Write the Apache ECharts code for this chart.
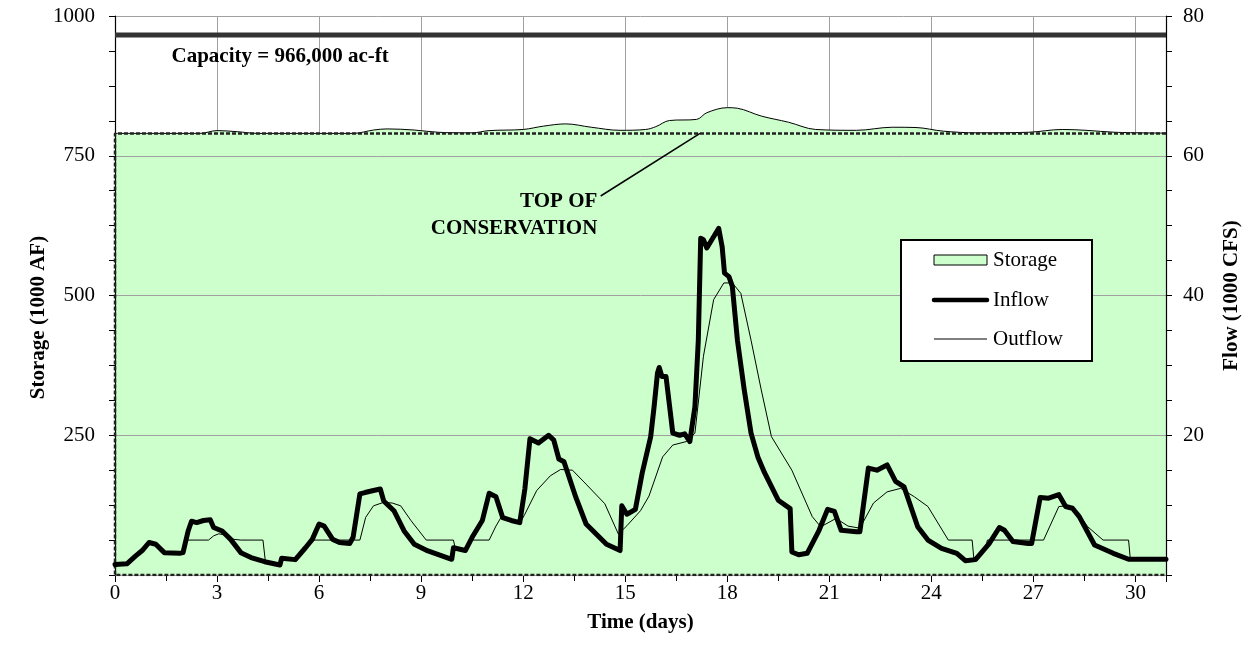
<!DOCTYPE html>
<html><head><meta charset="utf-8">
<script src="https://cdn.jsdelivr.net/npm/echarts@6/dist/echarts.min.js"></script>
<style>html,body{margin:0;padding:0;background:#fff}#c{width:1250px;height:654px}</style>
</head><body><div id="c"></div>
<script>
const FONT = "'Liberation Serif','Times New Roman',serif";

// ---- data ----
const timeMax = 30.9;               // days shown on the x axis
const capacity = 966;               // 1000 AF
const topOfConservation = 790;      // 1000 AF
const capacityLabel = 'Capacity = 966,000 ac-ft';
const tocLabel = 'TOP OF\nCONSERVATION';
const legendNames = ['Storage', 'Inflow', 'Outflow'];

// storage [day, 1000 AF]
const storage = [[0,790],[2.5,790],[3,795],[3.6,793],[4.2,790],[7.0,790],[7.6,796],[8,798],[8.8,796],[9.5,792],[10.5,791],[11,795],[12,797],[12.6,803],[13.25,807],[14,801],[14.85,795.5],[15.6,797],[15.9,802],[16.3,813],[17.1,815],[17.4,827],[18.0,836],[18.3,835],[19.0,821],[19.8,810],[20.6,797],[21.8,795.5],[22.85,801],[23.55,800.5],[24.35,794],[25.35,791],[26.85,792],[27.85,797],[28.55,795.5],[29.4,792],[30.9,790.5]];

// inflow [day, 1000 CFS]
const inflow = [[0,1.5],[0.35,1.6],[0.6,2.7],[0.8,3.5],[1.0,4.65],[1.2,4.4],[1.45,3.2],[1.9,3.1],[2.0,3.2],[2.15,6.3],[2.25,7.7],[2.4,7.5],[2.6,7.8],[2.8,7.9],[2.9,6.8],[3.15,6.3],[3.4,5.1],[3.7,3.2],[4.0,2.5],[4.4,1.9],[4.85,1.44],[4.9,2.4],[5.3,2.2],[5.6,3.9],[5.8,5.1],[6.0,7.3],[6.15,7.0],[6.4,5.1],[6.6,4.65],[6.9,4.5],[7.0,5.4],[7.2,11.6],[7.35,11.8],[7.6,12.1],[7.8,12.3],[7.9,10.6],[8.2,9.2],[8.5,6.3],[8.8,4.4],[9.2,3.45],[9.9,2.25],[9.95,3.9],[10.3,3.5],[10.5,5.4],[10.8,7.8],[11.0,11.7],[11.2,11.2],[11.4,8.2],[11.65,7.8],[11.9,7.5],[12.05,12.3],[12.2,19.5],[12.45,18.9],[12.75,20.0],[12.9,19.3],[13.05,16.6],[13.2,16.2],[13.55,11.1],[13.85,7.3],[14.45,4.4],[14.85,3.5],[14.9,9.9],[15.05,8.7],[15.3,9.4],[15.5,14.6],[15.75,19.8],[15.85,24.1],[15.95,28.9],[16.0,29.7],[16.08,28.4],[16.2,28.4],[16.4,20.3],[16.6,20.0],[16.75,20.2],[16.9,19.1],[17.05,24.1],[17.15,33.6],[17.22,48.2],[17.3,48.0],[17.4,46.8],[17.6,48.4],[17.75,49.6],[17.85,47.0],[17.92,43.2],[18.05,42.7],[18.15,41.3],[18.3,33.6],[18.5,26.5],[18.7,20.3],[18.9,16.9],[19.1,14.6],[19.5,10.7],[19.85,9.5],[19.9,3.3],[20.1,2.9],[20.35,3.1],[20.7,6.4],[20.95,9.4],[21.15,9.1],[21.35,6.4],[21.8,6.2],[21.9,6.2],[22.15,15.3],[22.4,15.0],[22.7,15.75],[22.95,13.4],[23.2,12.6],[23.6,6.9],[23.9,5.0],[24.3,3.8],[24.75,3.1],[25.0,2.05],[25.3,2.2],[25.7,4.5],[26.0,6.8],[26.15,6.4],[26.4,4.8],[26.85,4.5],[26.95,4.5],[27.2,11.1],[27.45,11.0],[27.75,11.5],[27.95,9.8],[28.15,9.55],[28.35,8.35],[28.8,4.3],[29.35,3.1],[29.8,2.25],[30.9,2.25]];

// outflow [day, 1000 CFS]
const outflow = [[0,1.5],[0.35,1.6],[0.6,2.7],[0.8,3.5],[1.0,4.65],[1.2,4.4],[1.45,3.2],[1.9,3.1],[2.0,3.2],[2.1,5.0],[2.75,5.0],[2.9,5.6],[3.05,5.9],[3.25,5.7],[3.5,5.1],[3.7,5.0],[4.35,5.0],[4.42,2.0],[4.85,1.44],[4.9,2.4],[5.3,2.2],[5.6,3.9],[5.8,5.0],[7.2,5.0],[7.37,8.25],[7.6,9.9],[7.9,10.4],[8.15,10.3],[8.4,9.9],[8.7,7.8],[9.15,5.0],[9.95,5.0],[10.0,3.9],[10.3,3.5],[10.45,5.0],[11.0,5.0],[11.2,7.0],[11.35,8.25],[11.65,7.8],[11.95,7.8],[12.05,8.7],[12.4,12.1],[12.8,14.2],[13.1,15.1],[13.45,15.0],[13.85,13.0],[14.4,10.2],[14.8,5.85],[15.05,7.05],[15.45,9.2],[15.7,11.3],[16.1,16.9],[16.4,18.6],[16.8,19.1],[17.05,20.3],[17.3,31.3],[17.6,39.4],[17.9,41.8],[18.15,41.8],[18.4,40.3],[18.7,33.6],[19.0,26.5],[19.3,19.8],[19.9,15.0],[20.5,8.35],[20.75,6.9],[21.2,8.1],[21.55,7.0],[21.9,6.7],[22.3,10.3],[22.7,11.9],[23.1,12.4],[23.5,11.2],[23.9,9.8],[24.5,5.0],[25.2,5.0],[25.25,2.4],[25.3,2.2],[25.6,4.0],[25.65,5.0],[27.3,5.0],[27.75,9.8],[28.0,9.9],[28.25,9.3],[28.6,6.9],[29.05,5.0],[29.8,5.0],[29.85,2.3],[30.9,2.25]];

// ---- annotation anchors (data coordinates) ----
const capacityLabelAt = [1.66, 927];
const tocLabelAt = [14.18, 643];
const tocPointerFrom = [14.28, 678];
const tocPointerTo = [17.2, topOfConservation];

const chart = echarts.init(document.getElementById('c'), null, {renderer:'canvas'});
const txt = {fontFamily: FONT, color:'#000'};
const plain = v => String(v);

chart.setOption({
  animation:false,
  backgroundColor:'#fff',
  grid:{left:115, right:75, top:16, bottom:79, containLabel:false},
  xAxis:{
    type:'value', min:0, max:timeMax, interval:3,
    name:'Time (days)', nameLocation:'middle', nameGap:37,
    nameTextStyle:Object.assign({fontSize:21, fontWeight:'bold'}, txt),
    axisLine:{lineStyle:{color:'#000', width:1.2}},
    axisTick:{length:7, lineStyle:{color:'#000'}},
    minorTick:{show:true, splitNumber:2, length:6, lineStyle:{color:'#000'}},
    axisLabel:Object.assign({fontSize:21, margin:8, showMaxLabel:false, formatter:plain}, txt),
    splitLine:{show:true, lineStyle:{color:'#a0a0a0', width:1}}
  },
  yAxis:[{
    type:'value', position:'left', min:0, max:1000, interval:250, z:3,
    name:'Storage (1000 AF)', nameLocation:'middle', nameGap:66, nameRotate:90, nameMoveOverlap:false,
    nameTextStyle:Object.assign({fontSize:21, fontWeight:'bold', padding:[0,44,0,0]}, txt),
    axisLine:{show:true, lineStyle:{color:'#000', width:1.2}},
    axisTick:{show:true, length:6, lineStyle:{color:'#000'}},
    minorTick:{show:true, splitNumber:4, length:6, lineStyle:{color:'#000'}},
    axisLabel:Object.assign({fontSize:21, margin:20, showMinLabel:false, formatter:plain}, txt),
    splitLine:{show:true, lineStyle:{color:'#a0a0a0', width:1}}
  },{
    type:'value', position:'right', min:0, max:80, interval:20, z:3,
    name:'Flow (1000 CFS)', nameLocation:'middle', nameGap:55, nameRotate:90,
    nameTextStyle:Object.assign({fontSize:21, fontWeight:'bold'}, txt),
    axisLine:{show:true, lineStyle:{color:'#000', width:1.2}},
    axisTick:{show:true, length:6, lineStyle:{color:'#000'}},
    minorTick:{show:true, splitNumber:4, length:6, lineStyle:{color:'#000'}},
    axisLabel:Object.assign({fontSize:21, margin:17, showMinLabel:false, formatter:plain}, txt),
    splitLine:{show:false}
  }],
  series:[
    {name:legendNames[0], type:'line', yAxisIndex:0, data:storage, symbol:'none', smooth:0.35, z:2,
     lineStyle:{color:'#000', width:1}, itemStyle:{color:'#ccffcc'},
     areaStyle:{color:'#ccffcc', opacity:1}, silent:true},
    {name:'TOC', type:'line', yAxisIndex:0, symbol:'none', z:4, silent:true,
     data:[[timeMax, topOfConservation],[0, topOfConservation],[0,0],[timeMax,0]],
     lineStyle:{color:'#222', width:2.5, type:[4,2]}},
    {name:'Capacity', type:'line', yAxisIndex:0, symbol:'none', z:4, silent:true,
     data:[[0, capacity],[timeMax, capacity]],
     lineStyle:{color:'#333', width:5}},
    {name:legendNames[2], type:'line', yAxisIndex:1, data:outflow, symbol:'none', z:5, silent:true,
     lineStyle:{color:'#000', width:1}, itemStyle:{color:'#000'}},
    {name:legendNames[1], type:'line', yAxisIndex:1, data:inflow, symbol:'none', z:6, silent:true,
     lineStyle:{color:'#000', width:5, join:'round', cap:'round'}, itemStyle:{color:'#000'}}
  ]
});

const P = p => chart.convertToPixel({gridIndex:0}, p);
const cap = P(capacityLabelAt), tl = P(tocLabelAt), pf = P(tocPointerFrom), pt = P(tocPointerTo);
const LX = 901, LY = 240, LW = 191, LH = 121;
const rowY = [260, 300, 339];
const legendFont = "21px " + FONT;
const Z = 30;
chart.setOption({graphic:[
  {type:'text', x:cap[0], y:cap[1], z:10,
   style:{text:capacityLabel, font:"bold 21px "+FONT, fill:'#000', align:'left', verticalAlign:'middle'}},
  {type:'text', x:tl[0], y:tl[1], z:10,
   style:{text:tocLabel, font:"bold 21px "+FONT, fill:'#000', align:'right', verticalAlign:'middle', lineHeight:27}},
  {type:'line', z:10, shape:{x1:pf[0], y1:pf[1], x2:pt[0], y2:pt[1]}, style:{stroke:'#000', lineWidth:1.5}},
  {type:'rect', z:Z, shape:{x:LX, y:LY, width:LW, height:LH}, style:{fill:'#fff', stroke:'#000', lineWidth:2}},
  {type:'rect', z:Z+1, shape:{x:934, y:rowY[0]-5, width:53, height:10}, style:{fill:'#ccffcc', stroke:'#000', lineWidth:1}},
  {type:'line', z:Z+1, shape:{x1:934, y1:rowY[1], x2:987, y2:rowY[1]}, style:{stroke:'#000', lineWidth:4.5, lineCap:'round'}},
  {type:'line', z:Z+1, shape:{x1:934, y1:rowY[2], x2:987, y2:rowY[2]}, style:{stroke:'#000', lineWidth:1}},
  {type:'text', z:Z+1, x:993, y:rowY[0], style:{text:legendNames[0], font:legendFont, fill:'#000', verticalAlign:'middle'}},
  {type:'text', z:Z+1, x:993, y:rowY[1], style:{text:legendNames[1], font:legendFont, fill:'#000', verticalAlign:'middle'}},
  {type:'text', z:Z+1, x:993, y:rowY[2], style:{text:legendNames[2], font:legendFont, fill:'#000', verticalAlign:'middle'}}
]});
</script>
</body></html>
